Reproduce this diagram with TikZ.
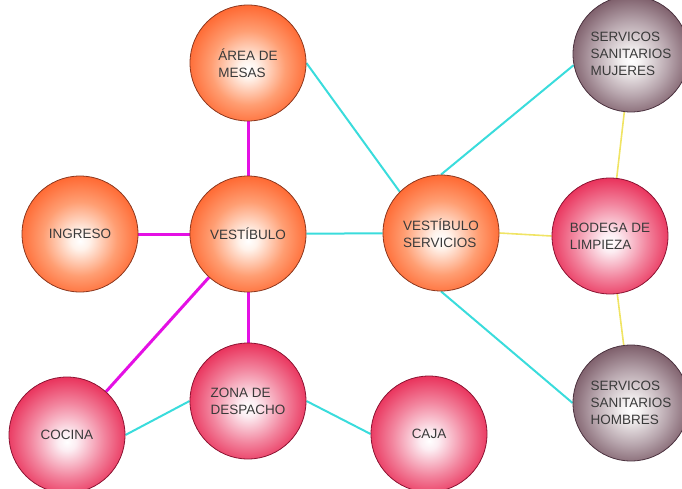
\documentclass[tikz,border=0pt]{standalone}
\usepackage{fontspec}
\setmainfont{Liberation Sans}
\usetikzlibrary{backgrounds}
\pgfdeclareradialshading{orangeball}{\pgfpoint{0bp}{-3bp}}{rgb(0bp)=(1,1,1); rgb(4bp)=(1,0.95,0.92); rgb(16bp)=(1,0.62,0.45); rgb(28bp)=(1,0.38,0.16); rgb(50bp)=(0.96,0.32,0.12)}
\pgfdeclareradialshading{pinkball}{\pgfpoint{0bp}{-3bp}}{rgb(0bp)=(1,1,1); rgb(4bp)=(0.99,0.93,0.95); rgb(16bp)=(0.95,0.52,0.62); rgb(28bp)=(0.91,0.15,0.32); rgb(50bp)=(0.87,0.11,0.28)}
\pgfdeclareradialshading{mauveball}{\pgfpoint{0bp}{-3bp}}{rgb(0bp)=(1,1,1); rgb(4bp)=(0.96,0.95,0.95); rgb(16bp)=(0.72,0.65,0.68); rgb(28bp)=(0.46,0.33,0.38); rgb(50bp)=(0.40,0.27,0.32)}
\definecolor{txt}{HTML}{3A3A3A}
\definecolor{mag}{HTML}{E410E4}
\definecolor{cya}{HTML}{3ADCDC}
\definecolor{yel}{HTML}{F0E464}
\tikzset{
  ball/.style={circle, minimum size=116pt, inner sep=0pt, line width=0.8pt,
    font=\fontsize{13.5}{17}\selectfont, text=txt, align=left},
  orangeb/.style={ball, shading=orangeball, draw={rgb,1:red,0.55;green,0.22;blue,0.12}},
  pinkb/.style={ball, shading=pinkball, draw={rgb,1:red,0.55;green,0.08;blue,0.2}},
  mauveb/.style={ball, shading=mauveball, draw={rgb,1:red,0.3;green,0.2;blue,0.25}},
  magline/.style={mag, line width=3pt},
  cyaline/.style={cya, line width=2pt},
  yelline/.style={yel, line width=1.6pt}
}
\begin{document}
\begin{tikzpicture}[x=1pt,y=-1pt]
\useasboundingbox (0,0) rectangle (682,489);
\node[orangeb] (mesas) at (248,63) {ÁREA DE\\MESAS};
\node[orangeb] (vest) at (248,234) {VESTÍBULO};
\node[orangeb] (ing) at (80,234) {INGRESO};
\node[orangeb] (vs) at (441,233) {VESTÍBULO\\SERVICIOS};
\node[pinkb] (bod) at (610,236) {BODEGA DE\\LIMPIEZA};
\node[mauveb] (muj) at (631,54) {SERVICOS\\SANITARIOS\\MUJERES};
\node[mauveb] (hom) at (631,403) {SERVICOS\\SANITARIOS\\HOMBRES};
\node[pinkb] (coc) at (67,435) {COCINA};
\node[pinkb] (zona) at (248,401) {ZONA DE\\DESPACHO};
\node[pinkb] (caja) at (429,434) {CAJA};
\begin{scope}[on background layer]
\draw[magline] (mesas) -- (vest);
\draw[magline] (ing) -- (vest);
\draw[magline] (vest) -- (zona);
\draw[magline] (vest) -- (coc);
\draw[cyaline] (mesas.east) -- (vs.135);
\draw[cyaline] (vest) -- (vs);
\draw[cyaline] (vs.north) -- (muj.191);
\draw[cyaline] (vs.south) -- (hom.180);
\draw[cyaline] (coc.east) -- (zona.west);
\draw[cyaline] (zona.east) -- (caja.west);
\draw[yelline] (vs.east) -- (bod.west);
\draw[yelline] (muj) -- (bod);
\draw[yelline] (bod) -- (hom);
\end{scope}
\end{tikzpicture}
\end{document}
